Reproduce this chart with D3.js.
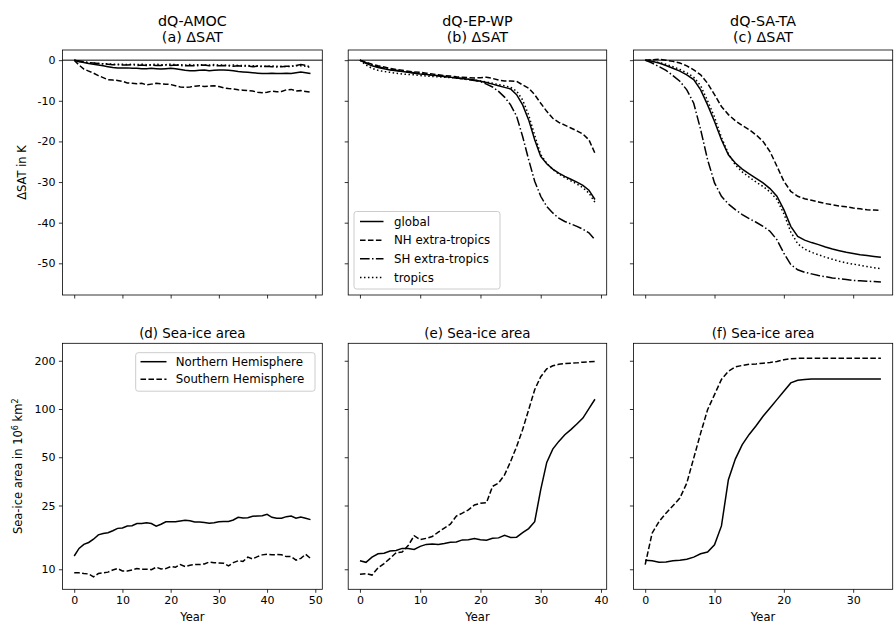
<!DOCTYPE html>
<html><head><meta charset="utf-8">
<script src="https://cdn.jsdelivr.net/npm/d3@7"></script>
<style>body{margin:0;background:#fff}svg{display:block}text{font-family:"DejaVu Sans",sans-serif;fill:#000}</style>
</head><body><svg id="c" width="895" height="626"></svg>
<script>
// ---------- data ----------
const experiments = ["dQ-AMOC", "dQ-EP-WP", "dQ-SA-TA"];
const satTitles = ["(a) ΔSAT", "(b) ΔSAT", "(c) ΔSAT"];
const iceTitles = ["(d) Sea-ice area", "(e) Sea-ice area", "(f) Sea-ice area"];
const satSeriesNames = ["global", "NH extra-tropics", "SH extra-tropics", "tropics"];
const iceSeriesNames = ["Northern Hemisphere", "Southern Hemisphere"];
const satTicks = [0, -10, -20, -30, -40, -50];
const iceTicks = [10, 25, 50, 100, 200];
const xTicksA = [0, 10, 20, 30, 40, 50];
const xTicksB = [0, 10, 20, 30, 40];
const xTicksC = [0, 10, 20, 30];

// dQ-AMOC ΔSAT (K), years 0..49
const amocGlobal = [0,-0.4,-0.6,-0.8,-1.0,-1.2,-1.4,-1.6,-1.8,-1.9,-1.9,-1.9,-2.0,-2.0,-2.1,-2.1,-2.0,-2.1,-2.2,-2.1,-2.0,-2.1,-2.3,-2.5,-2.6,-2.6,-2.5,-2.4,-2.6,-2.5,-2.4,-2.4,-2.5,-2.6,-2.8,-2.9,-3.0,-3.1,-3.2,-3.3,-3.3,-3.2,-3.3,-3.3,-3.2,-3.3,-3.1,-2.9,-3.1,-3.3];
const amocNH = [0,-1.2,-2.2,-2.7,-3.2,-3.8,-4.3,-4.8,-4.9,-5.0,-5.2,-5.6,-5.7,-5.8,-5.7,-6.1,-5.9,-5.7,-5.8,-5.9,-6.0,-6.3,-6.6,-6.7,-6.6,-6.4,-6.3,-6.5,-6.4,-6.3,-6.5,-6.8,-7.0,-7.1,-7.3,-7.4,-7.5,-7.6,-7.9,-8.0,-7.9,-7.6,-7.8,-7.7,-7.3,-7.2,-7.6,-7.5,-7.7,-7.9];
const amocSH = [0,-0.2,-0.4,-0.6,-0.7,-0.8,-0.9,-1.0,-1.1,-1.1,-1.2,-1.2,-1.1,-1.3,-1.2,-1.3,-1.2,-1.3,-1.3,-1.2,-1.3,-1.2,-1.3,-1.4,-1.3,-1.4,-1.3,-1.2,-1.4,-1.3,-1.4,-1.3,-1.4,-1.5,-1.4,-1.5,-1.4,-1.6,-1.5,-1.6,-1.5,-1.6,-1.7,-1.6,-1.5,-1.5,-1.3,-1.1,-1.3,-1.7];
const amocTrop = [0,-0.3,-0.5,-0.6,-0.7,-0.8,-0.9,-0.9,-1.0,-1.0,-1.0,-1.1,-1.0,-1.1,-1.0,-1.1,-1.1,-1.0,-1.1,-1.1,-1.0,-1.1,-1.1,-1.2,-1.1,-1.2,-1.1,-1.2,-1.2,-1.1,-1.2,-1.2,-1.3,-1.2,-1.3,-1.3,-1.3,-1.4,-1.4,-1.5,-1.5,-1.4,-1.5,-1.5,-1.6,-1.5,-1.4,-1.4,-1.5,-1.8];

// dQ-EP-WP ΔSAT (K), years 0..39
const epwpGlobal = [0,-0.8,-1.4,-1.8,-2.1,-2.4,-2.6,-2.8,-3.0,-3.2,-3.4,-3.5,-3.7,-3.8,-4.0,-4.2,-4.3,-4.5,-4.7,-4.9,-5.2,-5.5,-5.9,-6.3,-6.7,-7.1,-8.5,-11.0,-14.7,-19.6,-23.7,-25.5,-26.8,-27.8,-28.6,-29.3,-30.0,-30.8,-32.0,-34.3];
const epwpNH = [0,-0.5,-1.0,-1.4,-1.7,-2.0,-2.3,-2.5,-2.7,-2.9,-3.0,-3.2,-3.4,-3.6,-3.8,-3.9,-4.1,-4.2,-4.3,-4.4,-4.3,-4.2,-4.5,-4.9,-5.1,-5.1,-5.2,-6.1,-6.9,-8.5,-10.6,-12.6,-14.3,-15.3,-16.0,-16.7,-17.4,-18.2,-19.6,-22.9];
const epwpSH = [0,-0.6,-1.2,-1.6,-2.0,-2.3,-2.5,-2.7,-2.9,-3.1,-3.3,-3.5,-3.7,-3.9,-4.0,-4.2,-4.4,-4.6,-4.8,-5.0,-5.3,-5.9,-6.6,-7.7,-9.1,-11.0,-13.8,-18.8,-24.5,-29.8,-33.5,-36.0,-37.6,-38.9,-39.7,-40.3,-40.9,-41.6,-42.5,-44.2];
const epwpTrop = [0,-1.2,-2.0,-2.5,-2.8,-3.0,-3.2,-3.4,-3.5,-3.6,-3.8,-3.9,-4.0,-4.1,-4.2,-4.3,-4.4,-4.6,-4.7,-4.9,-5.1,-5.4,-5.7,-6.0,-6.3,-6.7,-7.6,-9.8,-13.5,-18.5,-23.2,-25.4,-26.9,-28.0,-28.9,-29.7,-30.5,-31.4,-32.7,-35.0];

// dQ-SA-TA ΔSAT (K), years 0..34
const satGlobal = [0,-0.3,-0.7,-1.3,-2.0,-2.7,-3.6,-4.8,-7.3,-11.0,-15.1,-19.6,-23.3,-25.3,-26.8,-28.0,-29.1,-30.2,-31.6,-33.5,-36.8,-40.9,-43.4,-44.3,-44.9,-45.4,-46.0,-46.5,-46.9,-47.3,-47.6,-47.9,-48.1,-48.3,-48.5];
const satNH = [0,0.1,0.2,0.0,-0.3,-0.7,-1.4,-2.4,-3.6,-5.7,-8.5,-11.4,-13.4,-14.9,-16.1,-17.1,-18.4,-20.0,-22.5,-26.1,-29.8,-32.3,-33.5,-34.1,-34.5,-34.9,-35.3,-35.6,-35.9,-36.1,-36.4,-36.6,-36.8,-36.9,-37.0];
const satSH = [0,-0.7,-1.6,-2.5,-3.8,-5.2,-7.3,-10.6,-17.1,-24.5,-30.2,-33.5,-35.4,-36.8,-38.0,-39.0,-39.9,-40.9,-42.1,-44.2,-47.5,-50.3,-51.6,-52.2,-52.6,-53.0,-53.3,-53.6,-53.8,-54.0,-54.2,-54.3,-54.4,-54.5,-54.6];
const satTrop = [0,-0.3,-0.6,-1.0,-1.6,-2.3,-3.1,-4.2,-6.3,-10.0,-14.0,-19.0,-23.0,-25.8,-27.5,-28.8,-30.0,-31.1,-32.4,-34.3,-37.8,-42.3,-45.2,-46.5,-47.3,-47.9,-48.5,-49.0,-49.5,-49.9,-50.2,-50.5,-50.8,-51.1,-51.3];

// Sea-ice area (10^6 km^2)
const amocIceNH = [12.1,13.5,14.3,14.7,15.4,16.4,16.7,16.9,17.4,18.0,18.1,18.6,18.7,19.3,19.3,19.5,19.3,18.6,19.1,19.8,19.8,19.8,20.0,20.2,20.1,19.7,19.7,19.6,19.4,19.5,19.8,19.9,19.9,20.3,21.1,20.9,21.0,21.4,21.5,21.6,22.0,21.1,20.8,20.8,21.3,21.5,20.8,21.2,20.8,20.4];
const amocIceSH = [9.5,9.5,9.4,9.35,8.96,9.4,9.5,9.6,9.9,10.1,9.76,9.76,9.9,10.1,10.0,10.0,9.95,10.3,10.05,10.1,10.4,10.3,10.7,10.4,10.6,10.7,10.7,10.8,11.1,11.0,10.95,10.9,10.5,11.0,11.3,11.2,11.9,11.6,12.0,12.3,12.4,12.3,12.35,12.3,12.0,12.0,11.4,11.7,12.4,11.7];
const epwpIceNH = [11.3,11.05,11.9,12.5,12.6,13.0,13.1,13.5,13.5,13.3,13.9,14.3,14.4,14.3,14.5,14.75,14.8,15.25,15.3,15.55,15.3,15.2,15.6,15.7,16.3,15.8,15.85,16.95,17.95,19.8,31.4,46.4,56.2,62.8,69.1,74.4,80.7,87.7,100.6,115];
const epwpIceSH = [9.3,9.4,9.2,10.2,10.85,11.7,12.7,12.8,14.05,16.2,15.3,15.6,16.0,17.05,18.05,19.1,21.5,22.4,23.5,25.2,25.8,26.0,32.9,34.5,38.8,47.0,58.3,74.4,99,132,159,178,186,190,192,193,194,196,197,198];
const sataIceNH = [11.4,11.3,11.05,11.1,11.3,11.4,11.55,11.9,12.5,12.8,14.2,18.65,36.2,48.7,59.9,69.4,78.6,90,101.5,114.4,129,145.5,151,153,154,154,154,154,154,154,154,154,154,154,154];
const sataIceSH = [10.7,16.8,19.85,22.4,24.9,27.8,34.5,49.4,70.7,99,123,153,172,183,187,190,191,193,195,198,203,206,207,207,207,207,207,207,207,207,207,207,207,207,207];

// ---------- layout ----------
const svg = d3.select("#c");
const lefts = [62.4, 348.2, 633.4];
const widths = [259.9, 258.5, 259.3];
const topRow = {y0: 50, y1: 295};
const botRow = {y0: 343.3, y1: 589.3};
const xDomains = [[-2.45, 51.45], [-1.95, 40.95], [-1.7, 35.7]];
const xTicks = [xTicksA, xTicksB, xTicksC];
const satData = [[amocGlobal, amocNH, amocSH, amocTrop],[epwpGlobal, epwpNH, epwpSH, epwpTrop],[satGlobal, satNH, satSH, satTrop]];
const iceData = [[amocIceNH, amocIceSH],[epwpIceNH, epwpIceSH],[sataIceNH, sataIceSH]];
const styles = [null, "5.55,2.4", "9.6,2.4,1.5,2.4", "1.5,2.475"];

const ySat = d3.scaleLinear().domain([2.5, -57.8]).range([topRow.y0, topRow.y1]);
const yIce = d3.scaleLog().domain([7.5, 257]).range([botRow.y1, botRow.y0]);

const tickFont = 11;
function fmtTick(d){ return String(d); }

for (let c = 0; c < 3; c++) {
  const x = d3.scaleLinear().domain(xDomains[c]).range([lefts[c], lefts[c] + widths[c]]);
  // ---- top panel ----
  const gT = svg.append("g");
  gT.append("line").attr("x1", x.range()[0]).attr("x2", x.range()[1]).attr("y1", ySat(0)).attr("y2", ySat(0)).attr("stroke", "#000").attr("stroke-width", 1);
  satData[c].forEach((arr, i) => {
    const line = d3.line().x((d, k) => x(k)).y(d => ySat(d));
    gT.append("path").attr("d", line(arr)).attr("fill", "none").attr("stroke", "#000").attr("stroke-width", 1.5)
      .attr("stroke-dasharray", styles[i]);
  });
  const xaT = d3.axisBottom(x).tickValues(xTicks[c]).tickSize(3.5).tickFormat("");
  const gxT = svg.append("g").attr("transform", `translate(0,${topRow.y1})`).call(xaT);
  const yaT = d3.axisLeft(ySat).tickValues(satTicks).tickSize(3.5).tickPadding(3.5).tickFormat(c === 0 ? fmtTick : "");
  const gyT = svg.append("g").attr("transform", `translate(${lefts[c]},0)`).call(yaT);
  [gxT, gyT].forEach(g => { g.select(".domain").remove(); g.selectAll("line").attr("stroke-width", 0.8); g.selectAll("text").attr("font-size", tickFont).attr("font-family", "DejaVu Sans"); });
  svg.append("rect").attr("x", lefts[c]).attr("y", topRow.y0).attr("width", widths[c]).attr("height", topRow.y1 - topRow.y0)
    .attr("fill", "none").attr("stroke", "#000").attr("stroke-width", 0.8);
  const cx = lefts[c] + widths[c] / 2;
  svg.append("text").attr("x", cx).attr("y", 26).attr("text-anchor", "middle").attr("font-size", 14.3).text(experiments[c]);
  svg.append("text").attr("x", cx).attr("y", 41.5).attr("text-anchor", "middle").attr("font-size", 14.3).text(satTitles[c]);

  // ---- bottom panel ----
  const gB = svg.append("g");
  iceData[c].forEach((arr, i) => {
    const line = d3.line().x((d, k) => x(k)).y(d => yIce(d));
    gB.append("path").attr("d", line(arr)).attr("fill", "none").attr("stroke", "#000").attr("stroke-width", 1.5)
      .attr("stroke-dasharray", styles[i]);
  });
  const xaB = d3.axisBottom(x).tickValues(xTicks[c]).tickSize(3.5).tickPadding(3.5).tickFormat(d3.format("d"));
  const gxB = svg.append("g").attr("transform", `translate(0,${botRow.y1})`).call(xaB);
  const yaB = d3.axisLeft(yIce).tickValues(iceTicks).tickSize(3.5).tickPadding(3.5).tickFormat(c === 0 ? d3.format("d") : "");
  const gyB = svg.append("g").attr("transform", `translate(${lefts[c]},0)`).call(yaB);
  [gxB, gyB].forEach(g => { g.select(".domain").remove(); g.selectAll("line").attr("stroke-width", 0.8); g.selectAll("text").attr("font-size", tickFont).attr("font-family", "DejaVu Sans"); });
  svg.append("rect").attr("x", lefts[c]).attr("y", botRow.y0).attr("width", widths[c]).attr("height", botRow.y1 - botRow.y0)
    .attr("fill", "none").attr("stroke", "#000").attr("stroke-width", 0.8);
  svg.append("text").attr("x", cx).attr("y", 337.5).attr("text-anchor", "middle").attr("font-size", 13.4).text(iceTitles[c]);
  svg.append("text").attr("x", cx).attr("y", 621).attr("text-anchor", "middle").attr("font-size", 11.5).text("Year");
}

// y labels
svg.append("text").attr("transform", `translate(26,${(topRow.y0 + topRow.y1) / 2}) rotate(-90)`).attr("text-anchor", "middle").attr("font-size", 11.5).text("ΔSAT in K");
const yl = svg.append("text").attr("transform", `translate(22,${(botRow.y0 + botRow.y1) / 2}) rotate(-90)`).attr("text-anchor", "middle").attr("font-size", 11.5);
yl.append("tspan").text("Sea-ice area in 10");
yl.append("tspan").attr("font-size", 8).attr("dy", -4).text("6");
yl.append("tspan").attr("dy", 4).text(" km");
yl.append("tspan").attr("font-size", 8).attr("dy", -4).text("2");

// legends
function legend(x0, y0, w, h, names, rowY, lineX0, lineX1, textX) {
  const g = svg.append("g");
  g.append("rect").attr("x", x0).attr("y", y0).attr("width", w).attr("height", h).attr("rx", 2.5)
    .attr("fill", "#fff").attr("fill-opacity", 0.8).attr("stroke", "#ccc").attr("stroke-width", 1);
  names.forEach((n, i) => {
    const y = rowY[i];
    g.append("line").attr("x1", lineX0).attr("x2", lineX1).attr("y1", y).attr("y2", y).attr("stroke", "#000").attr("stroke-width", 1.5).attr("stroke-dasharray", styles[i]);
    g.append("text").attr("x", textX).attr("y", y).attr("dy", "0.35em").attr("font-size", 11.8).text(n);
  });
}
legend(354, 211.5, 146, 77.5, satSeriesNames, [221.5, 240.2, 258.8, 277.4], 360, 383.5, 394);
legend(135.7, 352.7, 179.3, 38.5, iceSeriesNames, [361.7, 379.3], 140.5, 166.5, 175.7);
</script></body></html>
